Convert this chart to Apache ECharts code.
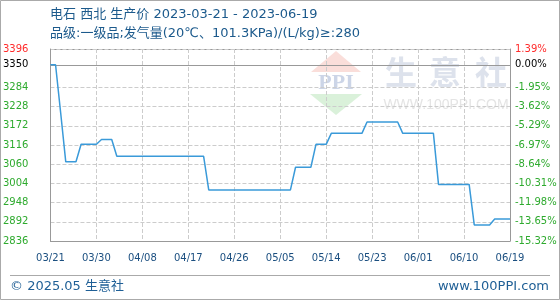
<!DOCTYPE html>
<html>
<head>
<meta charset="utf-8">
<script src="https://cdn.jsdelivr.net/npm/echarts@6/dist/echarts.min.js"></script>
<style>
html,body{margin:0;padding:0;background:#fff;}
#c{width:560px;height:300px;}
</style>
</head>
<body>
<div id="c"></div>
<script>
// ---- data ----
var titleText = '电石 西北 生产价 2023-03-21 - 2023-06-19';
var subTitleText = '品级:一级品;发气量(20℃、101.3KPa)/(L/kg)≥:280';
var startDate = '2023-03-21';
var dayCount = 91;
var baseValue = 3350;
var prices = [
  3350, 3350, 3210,
  3067, 3067, 3067,
  3118, 3118, 3118, 3118,
  3132, 3132, 3132,
  3083, 3083, 3083, 3083, 3083, 3083, 3083, 3083, 3083, 3083, 3083, 3083, 3083, 3083, 3083, 3083, 3083, 3083,
  2985, 2985, 2985, 2985, 2985, 2985, 2985, 2985, 2985, 2985, 2985, 2985, 2985, 2985, 2985, 2985, 2985,
  3051, 3051, 3051, 3051,
  3118, 3118, 3118,
  3150, 3150, 3150, 3150, 3150, 3150, 3150,
  3183, 3183, 3183, 3183, 3183, 3183, 3183,
  3150, 3150, 3150, 3150, 3150, 3150, 3150,
  3001, 3001, 3001, 3001, 3001, 3001, 3001,
  2883, 2883, 2883, 2883,
  2900, 2900, 2900, 2900
];
var yTicks = [2836, 2892, 2948, 3004, 3060, 3116, 3172, 3228, 3284, 3350, 3396];
var rightLabels = ['-15.32%', '-13.65%', '-11.98%', '-10.31%', '-8.64%', '-6.97%', '-5.29%', '-3.62%', '-1.95%', '0.00%', '1.39%'];
var yMin = 2836, yMax = 3396;

// categories (dates MM/DD)
var dates = [];
(function(){
  var p = startDate.split('-');
  var t0 = Date.UTC(+p[0], +p[1]-1, +p[2]);
  for (var i = 0; i < dayCount; i++) {
    var d = new Date(t0 + i*86400000);
    var mm = ('0' + (d.getUTCMonth()+1)).slice(-2);
    var dd = ('0' + d.getUTCDate()).slice(-2);
    dates.push(mm + '/' + dd);
  }
})();

var FONT = '"DejaVu Sans", "Noto Sans CJK SC", sans-serif';
function tickColor(v){ return v > baseValue ? '#ff2a2a' : (v === baseValue ? '#000000' : '#2eaa2e'); }

var chart = echarts.init(document.getElementById('c'), null, {renderer:'canvas'});
chart.setOption({
  animation: false,
  backgroundColor: '#ffffff',
  grid: {left: 50, right: 50, top: 49, bottom: 59, show: false},
  xAxis: {
    type: 'category',
    data: dates,
    boundaryGap: false,
    axisLine: {show: true, lineStyle: {color: '#999999', width: 1}},
    axisTick: {show: false},
    axisLabel: {interval: 8, color: '#1b4f80', fontFamily: FONT, fontSize: 10, margin: 12},
    splitLine: {show: true, interval: 8, lineStyle: {color: '#cccccc', type: 'dashed', width: 1}}
  },
  yAxis: [{
    type: 'value', min: yMin, max: yMax, position: 'left',
    axisLine: {show: true, lineStyle: {color: '#999999'}},
    axisTick: {show: false, customValues: yTicks},
    axisLabel: {customValues: yTicks, margin: 22, fontFamily: FONT, fontSize: 10,
      formatter: function(v){ return String(v); },
      color: function(v){ return tickColor(+v); }},
    splitLine: {show: true, lineStyle: {color: '#cccccc', type: 'dashed', width: 1}}
  }, {
    type: 'value', min: yMin, max: yMax, position: 'right',
    axisLine: {show: true, lineStyle: {color: '#999999'}},
    axisTick: {show: false, customValues: yTicks},
    axisLabel: {customValues: yTicks, margin: 5, fontFamily: FONT, fontSize: 10,
      formatter: function(v){ var i = yTicks.indexOf(+v); return i >= 0 ? rightLabels[i] : ''; },
      color: function(v){ return tickColor(+v); }},
    splitLine: {show: false}
  }],
  graphic: [
    {type: 'rect', shape: {x: 0.5, y: 0.5, width: 559, height: 299}, style: {fill: null, stroke: '#aaaaaa', lineWidth: 1}, z: -10},
    {type: 'line', shape: {x1: 10, y1: 275.5, x2: 550, y2: 275.5}, style: {stroke: '#aaaaaa', lineWidth: 1}},
    // plot top border
    {type: 'line', shape: {x1: 50, y1: 49.5, x2: 510, y2: 49.5}, style: {stroke: '#999999', lineWidth: 1}},
    // watermark logo
    {type: 'polygon', shape: {points: [[311, 72], [336, 51], [361, 72]]}, style: {fill: 'rgba(240,160,150,0.35)'}, z: -5},
    {type: 'polygon', shape: {points: [[310, 94], [362, 94], [336, 115]]}, style: {fill: 'rgba(150,215,150,0.35)'}, z: -5},
    {type: 'text', x: 336, y: 83, style: {text: 'PPI', fill: 'rgba(170,185,215,0.6)', font: 'bold 22px "Liberation Serif", serif', align: 'center', verticalAlign: 'middle', letterSpacing: 3}, z: -5},
    {type: 'text', x: 401, y: 72, style: {text: '生', fill: '#dde2ec', font: 'bold 32px "Noto Sans CJK SC", sans-serif', align: 'center', verticalAlign: 'middle'}, z: -5},
    {type: 'text', x: 445, y: 72, style: {text: '意', fill: '#dde2ec', font: 'bold 32px "Noto Sans CJK SC", sans-serif', align: 'center', verticalAlign: 'middle'}, z: -5},
    {type: 'text', x: 491, y: 72, style: {text: '社', fill: '#dde2ec', font: 'bold 32px "Noto Sans CJK SC", sans-serif', align: 'center', verticalAlign: 'middle'}, z: -5},
    {type: 'text', x: 446, y: 105, style: {text: 'WWW.100PPI.COM', fill: '#e4e4e4', font: '14px "Liberation Sans", sans-serif', align: 'center', verticalAlign: 'middle'}, z: -5},
    // titles
    {type: 'text', x: 50, y: 15, style: {text: titleText, fill: '#1c5a8c', font: '13px ' + FONT, verticalAlign: 'middle'}},
    {type: 'text', x: 50, y: 34, style: {text: subTitleText, fill: '#1c5a8c', font: '13px ' + FONT, verticalAlign: 'middle'}},
    // footer
    {type: 'text', x: 10, y: 287, style: {text: '© 2025.05 生意社', fill: '#1f5f96', font: '13px ' + FONT, verticalAlign: 'middle'}},
    {type: 'text', x: 549, y: 287, style: {text: 'www.100PPI.com', fill: '#1f5f96', font: '13px ' + FONT, align: 'right', verticalAlign: 'middle'}}
  ],
  series: [{
    type: 'line',
    data: prices,
    yAxisIndex: 0,
    symbol: 'none',
    lineStyle: {color: '#3a9ad9', width: 1.5},
    itemStyle: {color: '#3a9ad9'},
    markLine: {
      silent: true, symbol: 'none', animation: false,
      label: {show: false},
      lineStyle: {color: '#999999', type: 'solid', width: 1},
      data: [{yAxis: baseValue}]
    },
    z: 5
  }]
});
</script>
</body>
</html>
